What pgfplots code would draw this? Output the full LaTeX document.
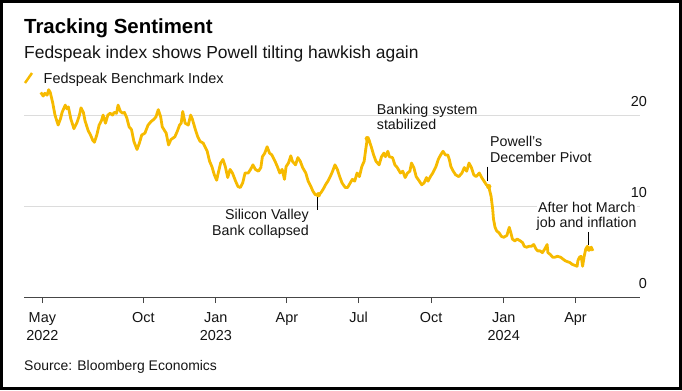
\documentclass[border=0pt]{standalone}
\usepackage{pgfplots}
\pgfplotsset{compat=1.18}
\usepackage{fontspec}
\setmainfont{Liberation Sans}
\definecolor{lineyellow}{RGB}{246,186,0}
\definecolor{gridgray}{RGB}{220,220,220}
\definecolor{axisgray}{RGB}{70,70,70}
\definecolor{txt}{RGB}{20,20,20}
\begin{document}
\begin{tikzpicture}
\begin{axis}[
  at={(24bp,-297bp)}, anchor=south west,
  scale only axis, width=616bp, height=212.7bp,
  xmin=1.7, xmax=782.8, ymin=0, ymax=23.5,
  axis x line*=bottom, axis y line*=right,
  y axis line style={draw=none},
  x axis line style={axisgray, line width=1bp},
  xtick={25,153,245,335,426,518,610,701},
  xticklabels={{May\\2022},Oct,{Jan\\2023},Apr,Jul,Oct,{Jan\\2024},Apr},
  xticklabel style={align=center, anchor=north, inner sep=0pt, yshift=-9bp, text=txt, font=\fontsize{14.5}{18}\selectfont},
  tick align=outside, major tick length=6bp,
  xtick style={axisgray, line width=0.8bp},
  ytick={0,10,20}, yticklabels={0,10,20},
  ytick style={draw=none},
  yticklabel style={anchor=base east, inner sep=0pt, yshift=9bp, xshift=1bp, text=txt, font=\fontsize{14.5}{17}\selectfont},
  ymajorgrids, grid style={gridgray, line width=1bp},
  clip=false,
]
\addplot[lineyellow, line width=2.8bp, line join=round, mark=none] coordinates {
(23,22.6)(26,22.2)(28,22.5)(31,22.3)(33,22.9)(35,22.6)(38,21.5)(41,20.1)(45,19.0)(48,19.7)(50,20.4)(54,21.2)(56,20.8)(58,21.0)(61,19.7)(65,18.6)(69,19.3)(72,20.1)(74,20.9)(77,20.4)(79,19.5)(83,18.4)(86,17.9)(89,17.3)(91,17.1)(94,17.9)(97,19.0)(100,19.5)(102,20.1)(105,19.2)(108,20.1)(111,20.3)(114,20.1)(116,20.4)(119,20.3)(121,21.2)(124,20.5)(127,20.3)(129,20.4)(132,19.8)(135,18.8)(138,18.5)(141,17.2)(145,16.3)(148,17.0)(151,17.9)(155,18.1)(159,19.0)(163,19.4)(166,19.6)(169,19.9)(172,20.7)(175,19.9)(177,18.8)(182,18.1)(185,16.8)(188,17.4)(193,17.7)(196,18.3)(199,19.0)(201,19.2)(203,20.5)(206,19.2)(210,19.0)(213,20.1)(215,19.7)(219,18.5)(222,17.7)(225,17.2)(229,17.0)(234,16.1)(237,15.0)(240,14.4)(243,13.5)(246,12.9)(248,13.7)(251,14.8)(254,15.2)(257,14.4)(260,13.2)(263,14.1)(266,13.7)(270,12.8)(273,12.2)(276,12.1)(279,12.6)(282,13.7)(286,13.7)(289,14.1)(292,14.6)(295,14.1)(299,13.9)(302,14.3)(304,15.5)(307,15.9)(310,16.6)(313,15.9)(316,15.7)(320,15.0)(323,14.4)(326,13.7)(329,14.1)(332,13.0)(334,14.4)(337,14.8)(340,15.6)(342,15.0)(346,14.6)(349,15.4)(352,15.0)(355,14.3)(359,13.7)(362,12.8)(365,12.3)(368,11.7)(371,11.3)(375,11.3)(378,11.5)(381,11.9)(384,12.4)(387,12.8)(390,13.3)(393,13.9)(396,14.6)(399,14.1)(402,13.3)(405,12.6)(409,12.1)(412,12.1)(414,12.4)(418,13.0)(421,12.8)(424,13.7)(427,13.3)(430,14.4)(433,15.0)(435,16.3)(437,17.5)(439,17.4)(442,16.6)(445,15.7)(448,15.0)(452,14.6)(455,15.5)(458,15.9)(460,15.5)(463,16.1)(465,15.5)(469,15.4)(472,14.6)(475,14.3)(479,13.7)(482,13.9)(485,13.2)(488,13.7)(491,13.9)(493,14.8)(496,14.3)(499,13.3)(503,12.8)(506,12.4)(509,12.6)(512,13.2)(514,12.8)(517,13.3)(520,13.7)(524,14.4)(527,15.2)(530,15.7)(533,16.1)(536,15.7)(539,15.7)(541,15.2)(543,14.4)(546,13.9)(549,13.5)(553,13.3)(557,13.7)(560,14.3)(563,13.9)(566,14.8)(569,14.3)(572,13.5)(575,13.3)(579,13.7)(582,13.2)(585,12.8)(588,12.4)(591,12.2)(594,11.1)(596,9.7)(597,8.6)(599,7.7)(601,7.3)(604,7.1)(607,6.7)(610,6.6)(614,6.8)(617,7.7)(619,7.1)(621,6.4)(624,6.2)(627,6.4)(631,6.2)(634,6.0)(636,5.6)(639,5.5)(642,5.6)(645,5.6)(648,5.8)(651,5.3)(653,5.1)(656,5.1)(659,4.9)(662,5.3)(665,5.8)(666,4.9)(669,4.7)(672,4.4)(675,4.4)(678,4.5)(682,4.4)(685,4.2)(688,4.0)(691,3.9)(694,3.8)(697,3.6)(700,3.5)(703,3.4)(704,4.0)(706,4.4)(708,4.5)(709,4.0)(710,3.4)(712,4.5)(714,5.3)(716,5.6)(718,5.3)(721,5.5)(723,5.1)
};
\addplot[only marks, mark=*, mark size=2.4bp, lineyellow] coordinates {(375,11.3)(437,17.5)(591,12.2)(718,5.3)};
\draw[black, line width=0.8bp] (axis cs:373.6,11.0) -- (axis cs:373.6,9.6);
\draw[black, line width=0.8bp] (axis cs:589.2,14.4) -- (axis cs:589.2,12.8);
\draw[black, line width=0.8bp] (axis cs:717.3,7.2) -- (axis cs:717.3,5.8);
\end{axis}
\begin{scope}[x=1bp,y=-1bp]
\draw[line width=3bp] (1.5,1.5) rectangle (680.5,388.5);
\node[anchor=base west, inner sep=0pt, text=black, font=\bfseries\fontsize{20.5}{24}\selectfont] at (24,33.5) {Tracking Sentiment};
\node[anchor=base west, inner sep=0pt, text=txt, font=\fontsize{17.5}{21}\selectfont] at (24,58.5) {Fedspeak index shows Powell tilting hawkish again};
\draw[lineyellow, line width=2.5bp] (25,83) -- (32,73);
\node[anchor=base west, inner sep=0pt, text=txt, font=\fontsize{14.5}{17}\selectfont] at (43.5,83.3) {Fedspeak Benchmark Index};
\node[anchor=base west, inner sep=0pt, text=txt, font=\fontsize{14}{17}\selectfont] at (24,370.7) {Source: Bloomberg Economics};
% annotations
\begin{scope}[every node/.style={inner sep=0pt, text=txt, font=\fontsize{14.3}{17}\selectfont}]
\node[anchor=base west] at (376.7,114.3) {Banking system};
\node[anchor=base west] at (376.7,129.3) {stabilized};
\node[anchor=base west] at (490,146) {Powell's};
\node[anchor=base west] at (490,162.3) {December Pivot};
\node[anchor=base east] at (309,219.3) {Silicon Valley};
\node[anchor=base east] at (309,235) {Bank collapsed};
\node[anchor=base east, fill=white, inner xsep=1bp, inner ysep=0.5bp] at (636.7,212.7) {After hot March};
\node[anchor=base east] at (636.7,227.3) {job and inflation};
\end{scope}
\end{scope}
\end{tikzpicture}
\end{document}
